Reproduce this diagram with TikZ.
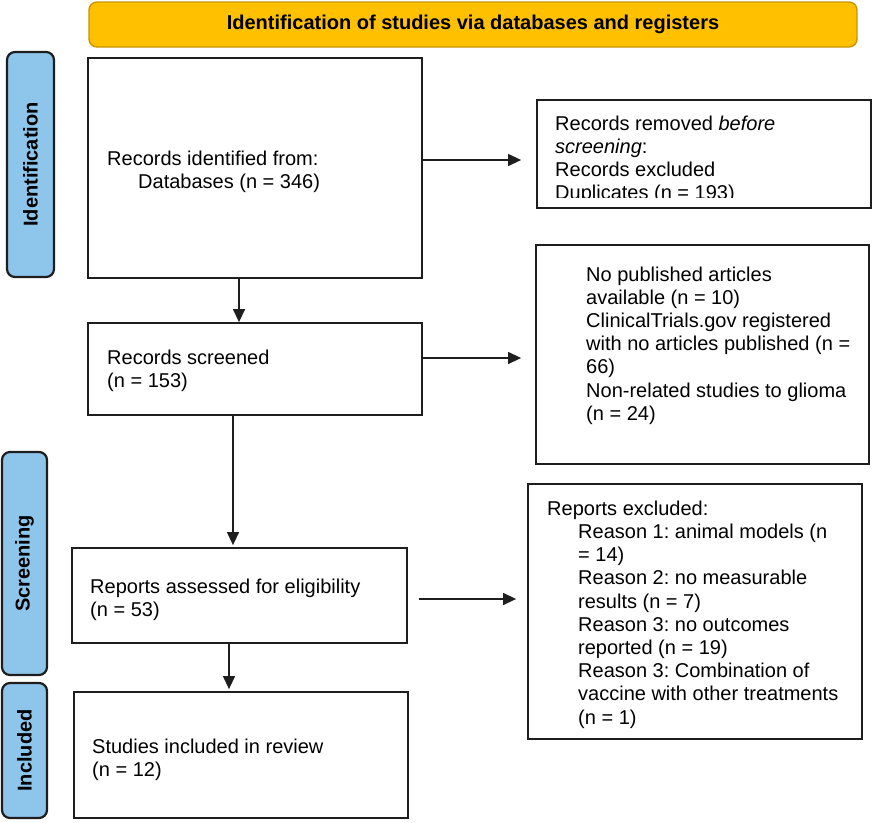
\documentclass[tikz,border=0pt]{standalone}
\usepackage{fontspec}
\setmainfont{Liberation Sans}
\usepackage{xcolor}
\usetikzlibrary{arrows.meta}
\frenchspacing
\definecolor{prismagold}{HTML}{FFC000}
\definecolor{prismagoldline}{HTML}{C99400}
\definecolor{prismablue}{HTML}{8EC5EB}
\definecolor{prismaink}{HTML}{1E1E1E}
\tikzset{
  header/.style={rectangle,rounded corners=8pt,fill=prismagold,draw=prismagoldline,
    line width=1.4pt,inner sep=0pt,font=\fontsize{20}{24}\selectfont\bfseries},
  stage/.style={rectangle,rounded corners=8pt,fill=prismablue,draw=prismaink,
    line width=2.2pt,inner sep=0pt,rotate=90,font=\fontsize{20}{24}\selectfont\bfseries},
  box/.style={rectangle,draw=prismaink,fill=white,line width=1.8pt,inner sep=0pt},
  txt/.style={anchor=north west,inner sep=0pt,align=left,
    font=\fontsize{20}{23.2}\selectfont},
  arrow/.style={draw=prismaink,line width=1.3pt,-{Triangle[length=13pt,width=12pt]}}
}
\begin{document}
\begin{tikzpicture}[x=1pt,y=-1pt]
  \useasboundingbox (0,0) rectangle (872,822);
  % header and stage labels
  \node[header,minimum width=768pt,minimum height=45pt] (hdr) at (473,24.5)
    {Identification of studies via databases and registers};
  \node[stage,minimum width=225pt,minimum height=47pt] (idlab) at (30.5,164.5) {Identification};
  \node[stage,minimum width=223pt,minimum height=45pt] (scrlab) at (24.5,563.5) {Screening};
  \node[stage,minimum width=135pt,minimum height=45pt] (inclab) at (24.5,750.5) {Included};
  % boxes
  \node[box,minimum width=334pt,minimum height=220pt] (idbox) at (255,168) {};
  \node[box,minimum width=334pt,minimum height=108pt] (rmbox) at (704,154) {};
  \node[box,minimum width=334pt,minimum height=92pt] (scrbox) at (255,369) {};
  \node[box,minimum width=333pt,minimum height=219pt] (exbox) at (702.5,354.5) {};
  \node[box,minimum width=335pt,minimum height=95pt] (repbox) at (239.5,595.5) {};
  \node[box,minimum width=334pt,minimum height=255pt] (rexbox) at (695,611.5) {};
  \node[box,minimum width=334pt,minimum height=126pt] (incbox) at (241,755) {};
  % texts
  \node[txt] (idtxt) at (107,150.5)
    {Records identified from:\\\hspace*{31pt}Databases (n = 346)};
  \begin{scope}
    \clip (rmbox.north west) rectangle ([yshift=11pt]rmbox.south east);
    \node[txt] (rmtxt) at (555,115.5)
      {Records removed \emph{before}\\\emph{screening}:\\Records excluded\\Duplicates (n = 193)};
  \end{scope}
  \node[txt] (scrtxt) at (107,349.5) {Records screened\\(n = 153)};
  \node[txt] (extxt) at (586,266.5)
    {No published articles\\available (n = 10)\\ClinicalTrials.gov registered\\
     with no articles published (n =\\66)\\Non-related studies to glioma\\(n = 24)};
  \node[txt] (reptxt) at (90,578.5) {Reports assessed for eligibility\\(n = 53)};
  \node[txt] (rextxt) at (547,500.5)
    {Reports excluded:\\
     \hspace*{31pt}Reason 1: animal models (n\\
     \hspace*{31pt}= 14)\\
     \hspace*{31pt}Reason 2: no measurable\\
     \hspace*{31pt}results (n = 7)\\
     \hspace*{31pt}Reason 3: no outcomes\\
     \hspace*{31pt}reported (n = 19)\\
     \hspace*{31pt}Reason 3: Combination of\\
     \hspace*{31pt}vaccine with other treatments\\
     \hspace*{31pt}(n = 1)};
  \node[txt] (inctxt) at (92,738.5) {Studies included in review\\(n = 12)};
  % arrows
  \draw[arrow,shorten >=15pt] ([yshift=8pt]idbox.east) -- ([yshift=8pt]idbox.east -| rmbox.west);
  \draw[arrow] ([xshift=-16pt]idbox.south) -- ([xshift=-16pt]idbox.south |- scrbox.north);
  \draw[arrow,shorten >=14pt] ([yshift=11pt]scrbox.east) -- ([yshift=11pt]scrbox.east -| exbox.west);
  \draw[arrow,shorten >=2pt] ([xshift=-22pt]scrbox.south) -- ([xshift=-22pt]scrbox.south |- repbox.north);
  \draw[arrow,shorten <=11pt,shorten >=11pt] ([yshift=-3.5pt]repbox.east) -- ([yshift=-3.5pt]repbox.east -| rexbox.west);
  \draw[arrow,shorten >=2pt] ([xshift=-10.5pt]repbox.south) -- ([xshift=-10.5pt]repbox.south |- incbox.north);
\end{tikzpicture}
\end{document}
